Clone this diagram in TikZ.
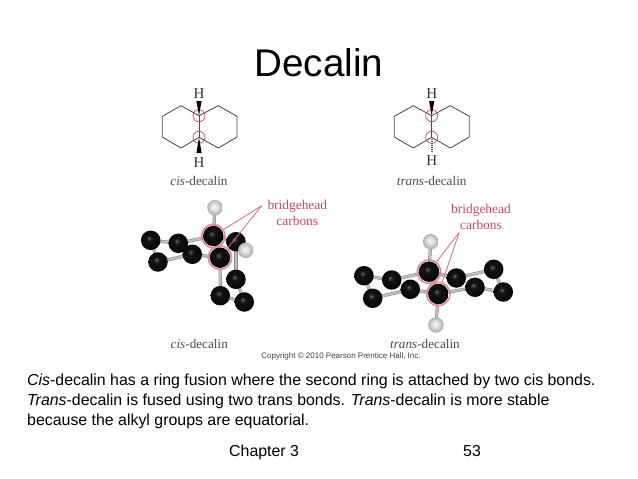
\documentclass[tikz,border=0pt]{standalone}
\usepackage{xcolor}
\usepackage{fontspec}
\setmainfont{Liberation Sans}
\newfontfamily\bookfont{Liberation Serif}
\usetikzlibrary{backgrounds}
\definecolor{carmine}{RGB}{203,70,100}
\pgfdeclareradialshading{carbonball}{\pgfpoint{-0.16cm}{0.2cm}}{%
  rgb(0bp)=(0.55,0.55,0.55);rgb(3bp)=(0.2,0.2,0.2);rgb(9bp)=(0.07,0.07,0.07);rgb(25bp)=(0.03,0.03,0.03);rgb(50bp)=(0,0,0)}
\pgfdeclareradialshading{hydroball}{\pgfpoint{-0.1cm}{0.12cm}}{%
  rgb(0bp)=(0.97,0.97,0.97);rgb(10bp)=(0.88,0.88,0.88);rgb(20bp)=(0.75,0.75,0.75);rgb(25bp)=(0.68,0.68,0.68);rgb(50bp)=(0.55,0.55,0.55)}
\tikzset{
  ring/.style={draw=black!70,line width=.85pt},
  carbon/.style={circle,inner sep=0pt,minimum size=19.5pt,shading=carbonball},
  bridge/.style={carbon,minimum size=20.5pt},
  hydro/.style={circle,inner sep=0pt,minimum size=15.5pt,shading=hydroball},
  bond/.style={draw=black!45,double=black!25,double distance=2pt,line width=.6pt,shorten >=-2pt,shorten <=-2pt},
  atomlabel/.style={font=\bookfont\fontsize{15}{16}\selectfont,text=black!80,inner sep=0pt},
  caption/.style={font=\bookfont\fontsize{13.2}{14}\selectfont,text=black!70,inner sep=0pt},
  pointer/.style={draw=carmine!80,line width=.8pt},
  marker/.style={circle,draw=carmine,line width=.7pt,inner sep=0pt,minimum size=12pt},
  halo/.style={circle,draw=carmine!65,line width=1.5pt,inner sep=0pt,minimum size=23.5pt},
  redlabel/.style={font=\bookfont\fontsize{13.4}{15.5}\selectfont,text=carmine,align=center,inner sep=0pt},
  wedgeup/.style={fill=black},
  hashed/.style={draw=black!65,line width=2.4pt,dash pattern=on .7pt off 1.3pt,shorten >=3pt,shorten <=2pt},
  slidetext/.style={font=\fontsize{15.9}{20}\selectfont,anchor=base west,inner sep=0pt}
}
\begin{document}
\begin{tikzpicture}[x=1pt,y=-1pt]
  \useasboundingbox (0,0) rectangle (638,479);
  \node[font=\fontsize{38.6}{40}\selectfont,inner sep=0pt] (title) at (319,63) {Decalin};
  % cis skeleton
  \coordinate (ca) at (199,115.7);
  \coordinate (cb) at (199,137.3);
  \draw[ring] (ca) -- (181,105.7) -- (162.3,116.3) -- (162.3,137) -- (181,148) -- (cb) -- (218.3,148) -- (237,137) -- (237,116.3) -- (218.3,105.7) -- cycle;
  \draw[ring] (ca) -- (cb);
  \node[marker] (cam) at (ca) {};
  \node[marker] (cbm) at (cb) {};
  \node[atomlabel] (cah) at (199,94) {H};
  \node[atomlabel] (cbh) at (199,162.3) {H};
  \fill[wedgeup] (ca) -- (196.4,101) -- (201.6,101) -- cycle;
  \fill[wedgeup] (cb) -- (196.4,153) -- (201.6,153) -- cycle;
  \node[caption] (cisname) at (199,181) {\textit{cis}-decalin};
  % trans skeleton
  \coordinate (ta) at (431.7,115.7);
  \coordinate (tb) at (431.7,137.3);
  \draw[ring] (ta) -- (413.3,105.7) -- (394.3,116.3) -- (394.3,137) -- (413.3,148) -- (tb) -- (450.3,148) -- (469.3,137) -- (469.3,116.3) -- (450.3,105.7) -- cycle;
  \draw[ring] (ta) -- (tb);
  \node[marker] (tam) at (ta) {};
  \node[marker] (tbm) at (tb) {};
  \node[atomlabel] (tah) at (431.7,94) {H};
  \node[atomlabel] (tbh) at (431.7,161) {H};
  \fill[wedgeup] (ta) -- (429.1,101) -- (434.3,101) -- cycle;
  \draw[hashed] (tb) -- (tbh);
  \node[caption] (transname) at (431.7,181) {\textit{trans}-decalin};
  % cis model
  \node[hydro] (hc1) at (215,207.7) {};
  \node[carbon] (c1) at (150.7,240.3) {};
  \node[carbon] (c2) at (178.3,243.3) {};
  \node[carbon] (c3) at (192.3,254.3) {};
  \node[carbon] (c4) at (158,262) {};
  \node[carbon] (c5) at (236,241.7) {};
  \node[hydro] (hc2) at (245.7,250.3) {};
  \node[bridge] (cq) at (213.3,236) {};
  \node[bridge] (cr) at (220,257.7) {};
  \node[carbon] (c6) at (236,279.3) {};
  \node[carbon] (c7) at (220.3,295.7) {};
  \node[carbon] (c8) at (244.3,302) {};
  \node[halo] (cqh) at (cq) {};
  \node[halo] (crh) at (cr) {};
  \begin{scope}[on background layer]
    \draw[bond] (c1) -- (c2);
    \draw[bond] (c1) -- (c4);
    \draw[bond] (c4) -- (c3);
    \draw[bond] (c2) -- (cq);
    \draw[bond] (c3) -- (cr);
    \draw[bond] (hc1) -- (cq);
    \draw[bond] (cq) -- (cr);
    \draw[bond] (cq) -- (c5);
    \draw[bond] (cr) -- (c7);
    \draw[bond] (c5) -- (c6);
    \draw[bond] (c6) -- (c8);
    \draw[bond] (c7) -- (c8);
  \end{scope}
  \node[redlabel] (cisred) at (297.3,213) {bridgehead\\carbons};
  \coordinate (cistip) at (261.7,205.7);
  \draw[pointer] (cistip) -- (cqh);
  \draw[pointer] (cistip) -- (crh);
  \node[caption] (cismodel) at (199.3,344) {\textit{cis}-decalin};
  % trans model
  \node[hydro] (ht1) at (430.7,241.7) {};
  \node[hydro] (ht2) at (436,325) {};
  \node[carbon] (t1) at (364,275.7) {};
  \node[carbon] (t2) at (391.7,280) {};
  \node[carbon] (t3) at (372.7,298.3) {};
  \node[carbon] (t4) at (410.3,289.3) {};
  \node[carbon] (t5) at (456.3,278) {};
  \node[carbon] (t6) at (475,287.3) {};
  \node[carbon] (t7) at (493.7,269.3) {};
  \node[carbon] (t8) at (503.3,292) {};
  \node[bridge] (tq) at (429,271.7) {};
  \node[bridge] (tr) at (438.3,294) {};
  \node[halo] (tqh) at (tq) {};
  \node[halo] (trh) at (tr) {};
  \begin{scope}[on background layer]
    \draw[bond] (t1) -- (t2);
    \draw[bond] (t1) -- (t3);
    \draw[bond] (t3) -- (t4);
    \draw[bond] (t2) -- (tq);
    \draw[bond] (t4) -- (tr);
    \draw[bond] (ht1) -- (tq);
    \draw[bond] (ht2) -- (tr);
    \draw[bond] (tq) -- (tr);
    \draw[bond] (tq) -- (t5);
    \draw[bond] (tr) -- (t6);
    \draw[bond] (t5) -- (t7);
    \draw[bond] (t6) -- (t8);
    \draw[bond] (t7) -- (t8);
  \end{scope}
  \node[redlabel] (transred) at (481,217) {bridgehead\\carbons};
  \coordinate (transtip) at (459,232.7);
  \draw[pointer] (transtip) -- (tqh);
  \draw[pointer] (transtip) -- (trh);
  \node[caption] (transmodel) at (425,344) {\textit{trans}-decalin};
  \node[font=\fontsize{8}{8}\selectfont,text=black!75,inner sep=0pt] (copyright) at (341,356) {Copyright \textcopyright{} 2010 Pearson Prentice Hall, Inc.};
  % slide text
  \node[slidetext] (lineone) at (27,385.5) {\textit{Cis}-decalin has a ring fusion where the second ring is attached by two cis bonds.};
  \node[slidetext] (linetwo) at (27,405) {\textit{Trans}-decalin is fused using two trans bonds. \textit{Trans}-decalin is more stable};
  \node[slidetext] (linethree) at (27,425) {because the alkyl groups are equatorial.};
  \node[slidetext] (chapter) at (229,456.5) {Chapter 3};
  \node[slidetext] (pagenum) at (463,456.5) {53};
\end{tikzpicture}
\end{document}
